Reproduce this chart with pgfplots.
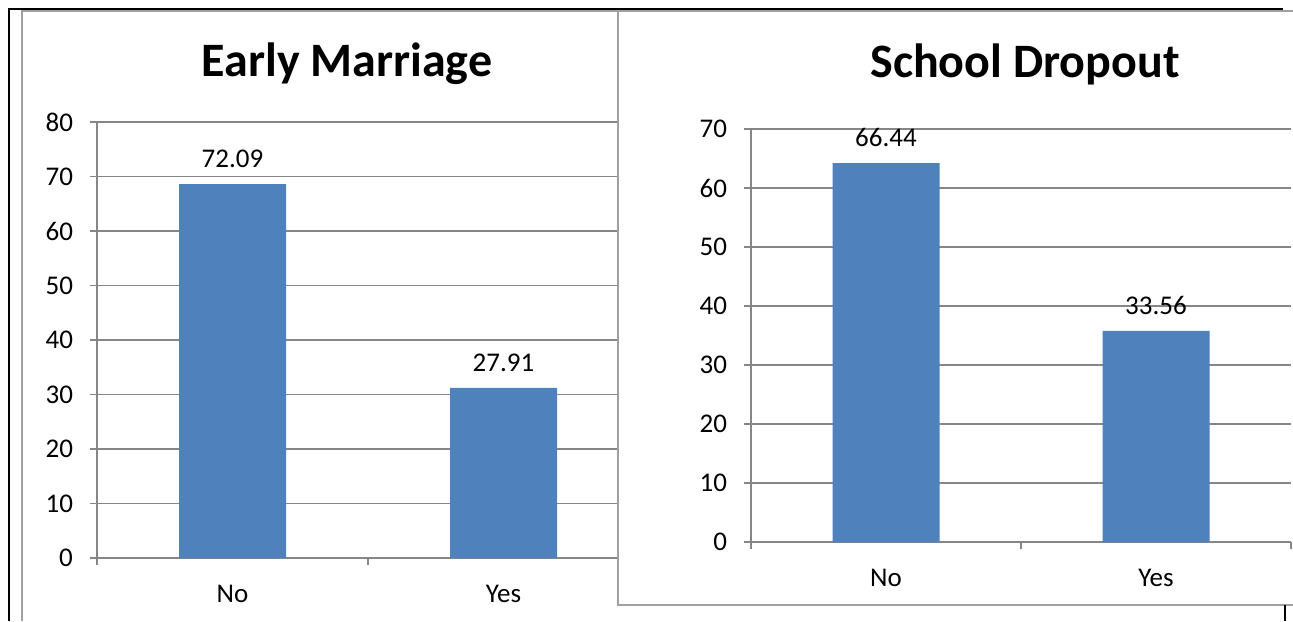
\documentclass[border=0pt]{standalone}
\usepackage{pgfplots}
\pgfplotsset{compat=1.18}
\usepackage{fontspec}
\setmainfont{Carlito}
\definecolor{barblue}{HTML}{4F81BD}
\definecolor{gridgray}{HTML}{868686}
\definecolor{framegray}{HTML}{A0A0A0}
\pgfplotsset{
  mybar/.style={
    scale only axis, anchor=south west,
    xmin=-0.5, xmax=1.5,
    axis lines*=left,
    axis line style={gridgray, line width=0.75pt},
    xtick={-0.5,0.5,1.5}, x tick label as interval, xticklabels={No,Yes},
    ytick distance=10,
    ymajorgrids, grid style={gridgray, line width=0.7pt},
    tick align=outside, major tick length=3.5pt,
    tick style={gridgray, line width=0.75pt},
    tick label style={font=\fontsize{13.5}{16}\selectfont, black},
    xticklabel style={yshift=-6.5pt},
    yticklabel style={xshift=-5pt},
    /pgf/number format/assume math mode=true,
    ybar, bar width=53.5pt,
    nodes near coords, point meta=explicit symbolic,
    every node near coord/.append style={font=\fontsize{13.5}{16}\selectfont, black, yshift=4.5pt},
    clip=false,
  }
}
\begin{document}
\begin{tikzpicture}
\useasboundingbox (0,0) rectangle (646.5pt,310.5pt);
\clip (0,0) rectangle (646.5pt,310.5pt);
% left panel frame
\draw[framegray, line width=0.75pt] (11pt,0) -- (11pt,305pt) -- (330pt,305pt);
\begin{axis}[mybar, at={(48.5pt,31.5pt)}, width=271pt, height=218pt, ymin=0, ymax=80]
\addplot[fill=barblue, draw=none] coordinates {(0,68.6) [72.09] (1,31.2) [27.91]};
\end{axis}
\node[font=\fontsize{24}{28}\selectfont\bfseries] at (173.5pt,278.5pt) {Early Marriage};
% right panel
\fill[white] (309pt,8pt) rectangle (660pt,305pt);
\draw[framegray, line width=0.75pt] (660pt,8pt) -- (309pt,8pt) -- (309pt,305pt) -- (660pt,305pt);
\begin{axis}[mybar, at={(375.5pt,39.5pt)}, width=270pt, height=206.5pt, ymin=0, ymax=70]
\addplot[fill=barblue, draw=none] coordinates {(0,64.2) [66.44] (1,35.8) [33.56]};
\end{axis}
\node[font=\fontsize{24}{28}\selectfont\bfseries] at (512.5pt,278.5pt) {School Dropout};
% outer black lines
\draw[black, line width=1pt] (4.5pt,0) -- (4.5pt,306pt) -- (641.5pt,306pt);
\draw[black, line width=1pt] (642.5pt,0) -- (642.5pt,8pt);
\end{tikzpicture}
\end{document}
